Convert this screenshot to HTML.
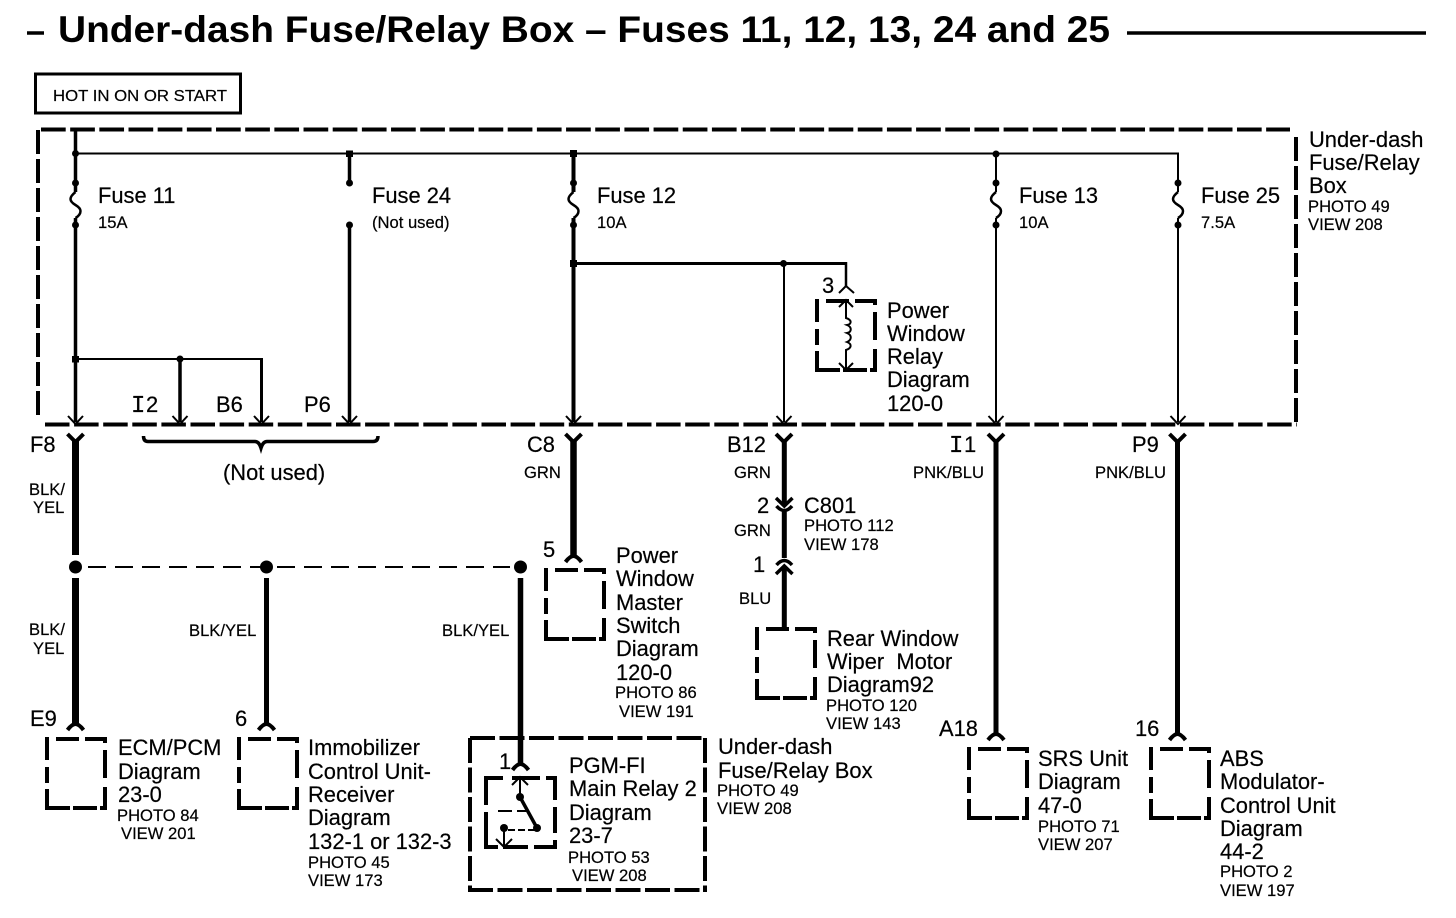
<!DOCTYPE html>
<html><head><meta charset="utf-8"><style>
html,body{margin:0;padding:0;background:#fff;width:1456px;height:918px;overflow:hidden}
svg{display:block}
text{font-family:"Liberation Sans",sans-serif;fill:#000;stroke:#000;stroke-width:.2}
.l{font-size:21.9px}
.s{font-size:16.6px}
.d{fill:none;stroke:#000;stroke-width:4}
.w{fill:none;stroke:#000}
.a{fill:none;stroke:#000;stroke-width:2}
.y{fill:none;stroke:#000;stroke-width:4}
.c{fill:none;stroke:#000;stroke-width:4}
</style></head><body>
<svg width="1456" height="918" viewBox="0 0 1456 918" xmlns="http://www.w3.org/2000/svg">
<defs>
<path id="cb" fill="none" stroke="#000" stroke-width="4" d="M1 -2V21M1 28V44M1 50V71M-1 0H3M10 0H33M39 0H61M59 0V4M59 11V39M59 48V71M-1 69H24M27 69H51M54 69H61"/>
<path id="fz" fill="none" stroke="#000" stroke-width="2.500" d="M0 192Q-5 196 -5 199Q-5 202 0 205Q5 208 5 211Q5 215 0 218"/>
</defs>
<rect x="0" y="0" width="1456" height="918" fill="#fff"/>
<!-- title -->
<path d="M27 33H44M1127 33H1426" stroke="#000" stroke-width="3.500" fill="none"/>
<text x="58" y="42" font-size="37.500" font-weight="bold" textLength="1052" lengthAdjust="spacingAndGlyphs" style="stroke-width:0">Under-dash Fuse/Relay Box – Fuses 11, 12, 13, 24 and 25</text>
<rect x="35.500" y="74" width="205" height="39" fill="none" stroke="#000" stroke-width="3"/>
<text x="53" y="101" font-size="16" textLength="174" lengthAdjust="spacingAndGlyphs">HOT IN ON OR START</text>
<!-- main dashed box -->
<path class="d" stroke-dasharray="24.700 4.470" d="M41 129.500H1290"/>
<path class="d" stroke-dasharray="24 5" d="M38 130V418"/>
<path class="d" stroke-dasharray="24 5" d="M1296 137V424"/>
<path class="d" stroke-dasharray="24.500 4.600" d="M45 424.500H1297"/>
<!-- bus -->
<path class="w" stroke-width="2" d="M75 153.500H1178V192"/>
<path class="w" stroke-width="3.500" d="M75.500 130V192"/>
<!-- fuse 11 -->
<circle cx="75.500" cy="153.500" r="3.500"/><circle cx="75.500" cy="183" r="3.500"/><circle cx="75.500" cy="225" r="3.500"/>
<use href="#fz" x="75.500"/>
<path class="w" stroke-width="3.500" d="M75.500 218V422"/>
<rect x="72" y="356" width="7" height="6.500"/>
<path class="w" stroke-width="2" d="M75 359H262.500"/>
<circle cx="180" cy="359" r="3.500"/>
<path class="w" stroke-width="3.500" d="M180 359V422"/>
<path class="w" stroke-width="3" d="M261.500 358V422"/>
<!-- fuse 24 -->
<rect x="346" y="150.500" width="7" height="6.500"/>
<path class="w" stroke-width="3.500" d="M349.500 154V183"/><circle cx="349.500" cy="183" r="3.500"/>
<circle cx="349.500" cy="225" r="3.500"/><path class="w" stroke-width="3.500" d="M349.500 225V422"/>
<!-- fuse 12 -->
<rect x="570" y="150" width="7" height="7"/>
<circle cx="573.500" cy="183" r="3.500"/><circle cx="573.500" cy="225" r="3.500"/>
<path class="w" stroke-width="4" d="M573.500 154V192M573.500 218V422"/>
<use href="#fz" x="573.500"/>
<rect x="570" y="260" width="7" height="7"/>
<path class="w" stroke-width="3" d="M573 263.500H846"/>
<path class="w" stroke-width="2.500" d="M846 262V286"/>
<circle cx="783.500" cy="263.500" r="3.500"/>
<path class="w" stroke-width="2" d="M784 264V422"/>
<path class="a" d="M839 293L846 286L854 293"/>
<!-- fuse 13 -->
<circle cx="996" cy="154" r="3.500"/><circle cx="996" cy="183" r="3.500"/><circle cx="996" cy="225" r="3.500"/>
<path class="w" stroke-width="2" d="M996 154V192M996 218V422"/>
<use href="#fz" x="996"/>
<!-- fuse 25 -->
<circle cx="1178" cy="183" r="3.500"/><circle cx="1178" cy="225" r="3.500"/>
<path class="w" stroke-width="2" d="M1178 218V422"/>
<use href="#fz" x="1178"/>
<!-- arrowheads at box bottom -->
<path class="a" d="M68 416L75.500 424L83 416M172.500 416L180 424L187.500 416M254 416L261.500 424L269 416M342 416L349.500 424L357 416M566 416L573.500 424L581 416M776.500 416L784 424L791.500 416M988.500 416L996 424L1003.500 416M1170.500 416L1178 424L1185.500 416"/>
<!-- thick wires -->
<g class="w">
<path stroke-width="7" d="M75.500 440V555M75.500 578V725"/>
<path stroke-width="5" d="M266.500 578V725"/>
<path stroke-width="5.500" d="M520.500 578V764"/>
<path stroke-width="6.500" d="M573.500 440V556"/>
<path stroke-width="5" d="M784.300 440V506M784.300 512V558M784.300 566V630"/>
<path stroke-width="5" d="M996 440V734M1177.500 440V734"/>
</g>
<path class="y" d="M67.500 434L75.500 442L83.500 434M565.500 434L573.500 442L581.500 434M776 434L784 442L792 434M988 434L996 442L1004 434M1169.500 434L1177.500 442L1185.500 434"/>
<!-- wire carets -->
<path class="y" d="M67.500 730Q72 724 75.500 724Q79 724 83.500 730M258.500 730Q263 724 266.500 724Q270 724 274.500 730M512.500 770Q517 764 520.500 764Q524 764 528.500 770M565.500 562Q570 556 573.500 556Q577 556 581.500 562M988 740Q992.500 734 996 734Q999.500 734 1004 740M1169.500 740Q1174 734 1177.500 734Q1181 734 1185.500 740"/>
<!-- C801 -->
<path class="y" d="M776 498L784.300 506L792.500 498M776.500 506Q784.300 515 792 506M776.500 565Q784.300 556 792 565M776 574L784.300 566L792.500 574" style="stroke-width:3.500"/>
<!-- dashed splice -->
<path class="w" stroke-width="2" stroke-dasharray="18 9" d="M88 567H510"/>
<circle cx="75.500" cy="567" r="6.500"/><circle cx="266.500" cy="567" r="6.500"/><circle cx="520.500" cy="567" r="6.500"/>
<!-- brace -->
<path class="w" stroke-width="3.500" d="M143.500 436Q143.500 441.500 148 441.500H255Q259 441.500 261 448Q263 441.500 267 441.500H373Q378 441.500 378 436"/>
<!-- component boxes -->
<use href="#cb" x="46" y="739"/>
<use href="#cb" x="238" y="739"/>
<use href="#cb" x="545" y="570"/>
<use href="#cb" x="756" y="629"/>
<use href="#cb" x="968" y="749"/>
<use href="#cb" x="1150" y="749"/>
<use href="#cb" x="816" y="301"/>
<path class="d" stroke-dasharray="25 4.500" d="M470 738H706M705 738V892M470 738V892M468 890H707"/>
<path class="d" d="M486 776V805M486 812V849M484 778H503M512 778H540M546 778H557M555 776V800M555 807V833M555 840V849M484 847H498M503 847H528M534 847H557"/>
<!-- relay coil -->
<path class="a" d="M846 301V318C852 320 852 324 847 325C852 327 852 332 847 333C852 335 852 340 847 342C852 344 852 348 846 350V370"/>
<path class="a" d="M839 307L846 300L853 307M839 363L846 370L853 363"/>
<!-- relay switch -->
<path class="a" d="M520 778V797M512 785L520 777L528 785"/>
<path class="a" d="M498 811H512M517 811H528"/>
<path class="w" stroke-width="3.500" d="M520 797L537 828"/>
<circle cx="520" cy="797" r="4"/><circle cx="537" cy="828" r="4"/><circle cx="504" cy="828" r="4"/>
<path class="a" stroke-dasharray="7 3" d="M508 830H535"/>
<path class="a" d="M504 828V847M496 839L504 847L512 839"/>
<!-- fuse labels -->
<text class="l" x="98" y="203">Fuse 11</text><text class="s" x="98" y="228">15A</text>
<text class="l" x="372" y="203">Fuse 24</text><text class="s" x="372" y="228">(Not used)</text>
<text class="l" x="597" y="203">Fuse 12</text><text class="s" x="597" y="228">10A</text>
<text class="l" x="1019" y="203">Fuse 13</text><text class="s" x="1019" y="228">10A</text>
<text class="l" x="1201" y="203">Fuse 25</text><text class="s" x="1201" y="228">7.5A</text>
<text class="l" x="1309" y="147">Under-dash</text><text class="l" x="1309" y="170">Fuse/Relay</text><text class="l" x="1309" y="193">Box</text>
<text class="s" x="1308" y="212">PHOTO 49</text><text class="s" x="1308" y="230">VIEW 208</text>
<text class="l" x="822" y="293">3</text>
<text class="l" x="887" y="318">Power</text><text class="l" x="887" y="341">Window</text><text class="l" x="887" y="364">Relay</text><text class="l" x="887" y="387">Diagram</text><text class="l" x="887" y="411">120-0</text>
<text x="131" y="412" font-size="24" style="font-family:'Liberation Mono',monospace">I</text><text class="l" x="146" y="412">2</text><text class="l" x="216" y="412">B6</text><text class="l" x="304" y="412">P6</text>
<text class="l" x="30" y="452">F8</text><text class="l" x="527" y="452">C8</text><text class="l" x="727" y="452">B12</text><text x="949" y="452" font-size="24" style="font-family:'Liberation Mono',monospace">I</text><text class="l" x="964" y="452">1</text><text class="l" x="1132" y="452">P9</text>
<text class="l" x="223" y="480">(Not used)</text>
<text class="s" x="29" y="495">BLK/</text><text class="s" x="33" y="513">YEL</text>
<text class="s" x="29" y="635">BLK/</text><text class="s" x="33" y="654">YEL</text>
<text class="s" x="189" y="636">BLK/YEL</text><text class="s" x="442" y="636">BLK/YEL</text>
<text class="s" x="524" y="478">GRN</text><text class="s" x="734" y="478">GRN</text><text class="s" x="734" y="536">GRN</text><text class="s" x="739" y="604">BLU</text>
<text class="s" x="913" y="478">PNK/BLU</text><text class="s" x="1095" y="478">PNK/BLU</text>
<text class="l" x="757" y="513">2</text><text class="l" x="804" y="513">C801</text>
<text class="s" x="804" y="531">PHOTO 112</text><text class="s" x="804" y="550">VIEW 178</text>
<text class="l" x="753" y="572">1</text>
<text class="l" x="543" y="557">5</text>
<text class="l" x="616" y="563">Power</text><text class="l" x="616" y="586">Window</text><text class="l" x="616" y="610">Master</text><text class="l" x="616" y="633">Switch</text><text class="l" x="616" y="656">Diagram</text><text class="l" x="616" y="680">120-0</text>
<text class="s" x="615" y="698">PHOTO 86</text><text class="s" x="619" y="717">VIEW 191</text>
<text class="l" x="827" y="646">Rear Window</text><text class="l" x="827" y="669">Wiper&#160; Motor</text><text class="l" x="827" y="692">Diagram92</text>
<text class="s" x="826" y="711">PHOTO 120</text><text class="s" x="826" y="729">VIEW 143</text>
<text class="l" x="30" y="726">E9</text><text class="l" x="235" y="726">6</text>
<text class="l" x="118" y="755">ECM/PCM</text><text class="l" x="118" y="779">Diagram</text><text class="l" x="118" y="802">23-0</text>
<text class="s" x="117" y="821">PHOTO 84</text><text class="s" x="121" y="839">VIEW 201</text>
<text class="l" x="308" y="755">Immobilizer</text><text class="l" x="308" y="779">Control Unit-</text><text class="l" x="308" y="802">Receiver</text><text class="l" x="308" y="825">Diagram</text><text class="l" x="308" y="849">132-1 or 132-3</text>
<text class="s" x="308" y="868">PHOTO 45</text><text class="s" x="308" y="886">VIEW 173</text>
<text class="l" x="499" y="769">1</text>
<text class="l" x="569" y="773">PGM-FI</text><text class="l" x="569" y="796">Main Relay 2</text><text class="l" x="569" y="820">Diagram</text><text class="l" x="569" y="843">23-7</text>
<text class="s" x="568" y="863">PHOTO 53</text><text class="s" x="572" y="881">VIEW 208</text>
<text class="l" x="718" y="754">Under-dash</text><text class="l" x="718" y="778">Fuse/Relay Box</text>
<text class="s" x="717" y="796">PHOTO 49</text><text class="s" x="717" y="814">VIEW 208</text>
<text class="l" x="939" y="736">A18</text><text class="l" x="1135" y="736">16</text>
<text class="l" x="1038" y="766">SRS Unit</text><text class="l" x="1038" y="789">Diagram</text><text class="l" x="1038" y="813">47-0</text>
<text class="s" x="1038" y="832">PHOTO 71</text><text class="s" x="1038" y="850">VIEW 207</text>
<text class="l" x="1220" y="766">ABS</text><text class="l" x="1220" y="789">Modulator-</text><text class="l" x="1220" y="813">Control Unit</text><text class="l" x="1220" y="836">Diagram</text><text class="l" x="1220" y="859">44-2</text>
<text class="s" x="1220" y="877">PHOTO 2</text><text class="s" x="1220" y="896">VIEW 197</text>
</svg>
</body></html>
